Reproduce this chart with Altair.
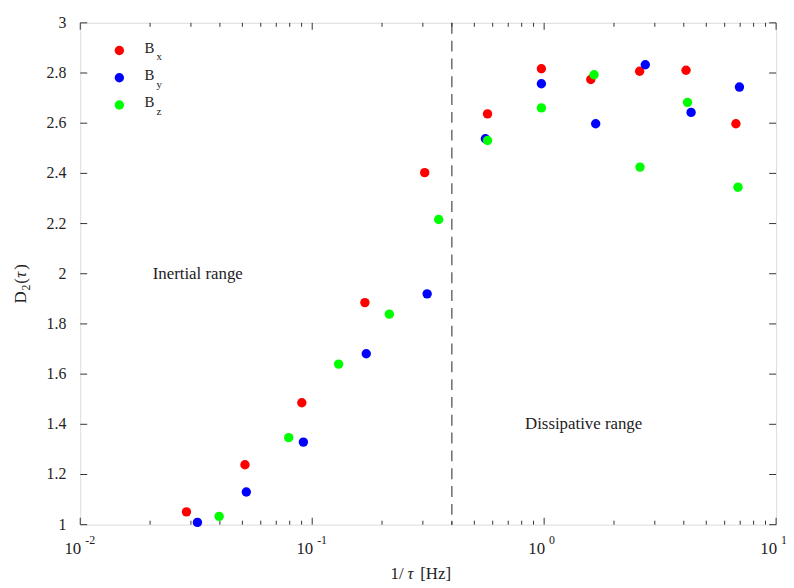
import altair as alt
import pandas as pd

# ---- data ----
freq_bx = [0.0287, 0.0513, 0.0902, 0.1687, 0.3055, 0.570, 0.973, 1.589, 2.58, 4.09, 6.71]
d2_bx = [1.051, 1.239, 1.486, 1.885, 2.403, 2.637, 2.817, 2.774, 2.807, 2.811, 2.598]

freq_by = [0.0320, 0.0520, 0.0916, 0.171, 0.313, 0.558, 0.973, 1.668, 2.73, 4.30, 6.95]
d2_by = [1.009, 1.130, 1.329, 1.681, 1.920, 2.538, 2.757, 2.598, 2.833, 2.643, 2.744]

freq_bz = [0.0397, 0.0792, 0.130, 0.215, 0.351, 0.570, 0.973, 1.641, 2.59, 4.15, 6.85]
d2_bz = [1.033, 1.347, 1.640, 1.839, 2.216, 2.531, 2.661, 2.793, 2.425, 2.683, 2.345]

components = ["Bx", "By", "Bz"]
comp_subs = ["x", "y", "z"]
comp_colors = ["#ff0000", "#0000ff", "#00ff00"]

boundary_freq = [0.4]

x_major_ticks = [0.01, 0.1, 1, 10]
x_minor_ticks = [m * d for d in (0.01, 0.1, 1) for m in range(2, 10)]
x_label_exps = ["-2", "-1", "0", "1"]
y_ticks = [1.0, 1.2, 1.4, 1.6, 1.8, 2.0, 2.2, 2.4, 2.6, 2.8, 3.0]

x_title_parts = ["1/", "τ", "[Hz]"]
y_title_parts = ["D", "2", "(", "τ", ")"]

annot_text = ["Inertial range", "Dissipative range"]
annot_freq = [0.0321, 1.48]
annot_d2 = [2.0, 1.4]

# ---- tables ----
df = pd.concat([
    pd.DataFrame({"f": freq_bx, "D2": d2_bx, "comp": "Bx"}),
    pd.DataFrame({"f": freq_by, "D2": d2_by, "comp": "By"}),
    pd.DataFrame({"f": freq_bz, "D2": d2_bz, "comp": "Bz"}),
], ignore_index=True)

W, H = 703, 507
FONT = "Liberation Serif"
INK = "#222222"

xscale = alt.Scale(type="log", domain=[0.01, 10], nice=False)
yscale = alt.Scale(domain=[1, 3], nice=False, zero=False)
cscale = alt.Scale(domain=components, range=comp_colors)

boundary = alt.Chart(pd.DataFrame({"v": boundary_freq})).mark_rule(
    strokeDash=[11, 7], color="#555555", strokeWidth=1.3
).encode(x=alt.X("v:Q", scale=xscale, axis=None))

points = alt.Chart(df).mark_circle(size=90, opacity=1).encode(
    x=alt.X("f:Q", scale=xscale, axis=None),
    y=alt.Y("D2:Q", scale=yscale, axis=None),
    color=alt.Color("comp:N", scale=cscale, legend=None),
)

tick_style = dict(color="#333333", strokeWidth=1)
xmaj = pd.DataFrame({"v": x_major_ticks})
xmin = pd.DataFrame({"v": x_minor_ticks})
ytk = pd.DataFrame({"v": y_ticks})

ticks = [
    alt.Chart(xmaj).mark_rule(**tick_style).encode(
        x=alt.X("v:Q", scale=xscale, axis=None), y=alt.value(H), y2=alt.value(H - 7)),
    alt.Chart(xmin).mark_rule(**tick_style).encode(
        x=alt.X("v:Q", scale=xscale, axis=None), y=alt.value(H), y2=alt.value(H - 4)),
    alt.Chart(xmaj).mark_rule(**tick_style).encode(
        x=alt.X("v:Q", scale=xscale, axis=None), y=alt.value(0), y2=alt.value(7)),
    alt.Chart(xmin).mark_rule(**tick_style).encode(
        x=alt.X("v:Q", scale=xscale, axis=None), y=alt.value(0), y2=alt.value(4)),
    alt.Chart(ytk).mark_rule(**tick_style).encode(
        y=alt.Y("v:Q", scale=yscale, axis=None), x=alt.value(0), x2=alt.value(7)),
    alt.Chart(ytk).mark_rule(**tick_style).encode(
        y=alt.Y("v:Q", scale=yscale, axis=None), x=alt.value(W), x2=alt.value(W - 7)),
]

# y tick labels
ylabels = alt.Chart(ytk).mark_text(align="right", baseline="middle", fontSize=16,
                                   font=FONT, color=INK).encode(
    y=alt.Y("v:Q", scale=yscale, axis=None), x=alt.value(-14),
    text=alt.Text("v:Q", format=".1~f"))

# x tick labels: 10 with raised exponent
xlab = alt.Chart(pd.DataFrame({"exp": x_label_exps})).transform_calculate(
    val="pow(10, toNumber(datum.exp))"
)
xlabels_base = xlab.mark_text(align="right", baseline="alphabetic", fontSize=17,
                              font=FONT, color=INK, dx=1).encode(
    x=alt.X("val:Q", scale=xscale, axis=None), y=alt.value(H + 29.5), text=alt.value("10"))
xlabels_exp = xlab.mark_text(align="left", baseline="alphabetic", fontSize=12,
                             font=FONT, color=INK, dx=5).encode(
    x=alt.X("val:Q", scale=xscale, axis=None), y=alt.value(H + 19.5), text="exp:N")

# axis titles (built from pieces so that tau is italic and 2 is a real subscript)
tparts = alt.Chart(pd.DataFrame({"a": x_title_parts[0:1], "b": x_title_parts[1:2],
                                 "c": x_title_parts[2:3],
                                 "d": y_title_parts[0:1], "e": y_title_parts[1:2],
                                 "f": y_title_parts[2:3], "g": y_title_parts[3:4],
                                 "h": y_title_parts[4:5]}))
txt = dict(baseline="alphabetic", fontSize=17, font=FONT, color=INK)
XT_Y = H + 55
XT_X = W / 2 - 38
title_layers = [
    tparts.mark_text(align="left", **txt).encode(
        x=alt.value(XT_X), y=alt.value(XT_Y), text="a:N"),
    tparts.mark_text(align="left", fontStyle="italic", **txt).encode(
        x=alt.value(XT_X + 17), y=alt.value(XT_Y), text="b:N"),
    tparts.mark_text(align="left", **txt).encode(
        x=alt.value(XT_X + 30), y=alt.value(XT_Y), text="c:N"),
]
YT_X = -55
YT_Y = H / 2 + 30
rot = dict(angle=270, align="left", font=FONT, color=INK, baseline="alphabetic")
title_layers += [
    tparts.mark_text(fontSize=17, **rot).encode(
        x=alt.value(YT_X), y=alt.value(YT_Y), text="d:N"),
    tparts.mark_text(fontSize=12, **rot).encode(
        x=alt.value(YT_X + 4), y=alt.value(YT_Y - 13), text="e:N"),
    tparts.mark_text(fontSize=17, **rot).encode(
        x=alt.value(YT_X), y=alt.value(YT_Y - 20), text="f:N"),
    tparts.mark_text(fontSize=17, fontStyle="italic", **rot).encode(
        x=alt.value(YT_X), y=alt.value(YT_Y - 26), text="g:N"),
    tparts.mark_text(fontSize=17, **rot).encode(
        x=alt.value(YT_X), y=alt.value(YT_Y - 34), text="h:N"),
]

annots = alt.Chart(pd.DataFrame({"t": annot_text, "f": annot_freq, "D2": annot_d2})).mark_text(
    align="center", baseline="middle", fontSize=17, font=FONT, color=INK
).encode(x=alt.X("f:Q", scale=xscale, axis=None),
         y=alt.Y("D2:Q", scale=yscale, axis=None), text="t:N")

# manual legend (subscripted labels)
legend_layers = []
for i, (c, s) in enumerate(zip(components, comp_subs)):
    ly = 28 + i * 27.5
    one = alt.Chart(pd.DataFrame({"comp": [c], "sub": [s]}))
    legend_layers.append(one.mark_circle(size=90, opacity=1).encode(
        x=alt.value(39.5), y=alt.value(ly),
        color=alt.Color("comp:N", scale=cscale, legend=None)))
    legend_layers.append(one.mark_text(align="left", baseline="alphabetic", fontSize=15,
                                       font=FONT, color=INK).encode(
        x=alt.value(65), y=alt.value(ly + 2.5), text=alt.value("B")))
    legend_layers.append(one.mark_text(align="left", baseline="alphabetic", fontSize=11,
                                       font=FONT, color=INK).encode(
        x=alt.value(77), y=alt.value(ly + 10), text="sub:N"))

chart = alt.layer(
    boundary, *ticks, points, ylabels, xlabels_base, xlabels_exp, *title_layers,
    annots, *legend_layers
).properties(
    width=W, height=H,
    autosize=alt.AutoSizeParams(type="none"),
    padding={"left": 73, "top": 12, "right": 10, "bottom": 61},
).configure_view(stroke="#222222", strokeWidth=1).configure(background="white")

chart.save("out.html", embed_options={"renderer": "svg", "actions": False})
